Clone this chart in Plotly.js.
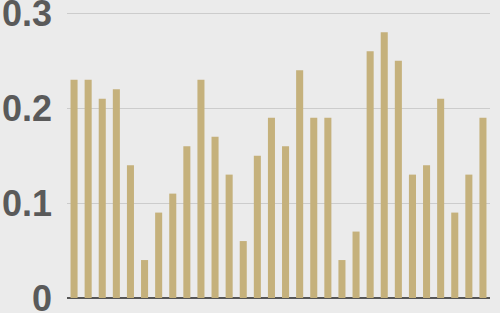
<!DOCTYPE html>
<html><head><meta charset="utf-8">
<script src="https://cdn.plot.ly/plotly-3.0.1.min.js"></script>
<style>html,body{margin:0;padding:0;background:#ebebeb;}#c{width:500px;height:313px;}</style>
</head><body><div id="c"></div>
<script>
var categories = [];
for (var i = 1; i <= 30; i++) categories.push(i);
var values = [0.23,0.23,0.21,0.22,0.14,0.04,0.09,0.11,0.16,0.23,0.17,0.13,0.06,0.15,0.19,0.16,0.24,0.19,0.19,0.04,0.07,0.26,0.28,0.25,0.13,0.14,0.21,0.09,0.13,0.19];
var tickVals = [0, 0.1, 0.2, 0.3];
var tickText = ["0", "0.1", "0.2", "0.3"];

Plotly.newPlot('c', [{
  type: 'bar', x: categories, y: values,
  marker: {color: '#c5b17c'}, hoverinfo: 'none'
}], {
  width: 500, height: 313,
  margin: {l: 67, r: 10, t: 0, b: 15},
  paper_bgcolor: '#ebebeb', plot_bgcolor: '#ebebeb',
  bargap: 0.5, showlegend: false,
  xaxis: {showticklabels: false, showgrid: false, zeroline: false, ticks: '', range: [0.5, 30.5]},
  yaxis: {range: [0, 0.314], tickvals: tickVals, ticktext: tickText,
    showgrid: true, gridcolor: '#cccccc', gridwidth: 1,
    zeroline: true, zerolinecolor: '#555555', zerolinewidth: 1.5,
    ticks: '', ticklabelstandoff: 14, ticklabeloverflow: 'allow',
    tickfont: {family: 'Arial', size: 36, color: '#5a5a5a', weight: 700}}
}, {displayModeBar: false, staticPlot: true});
</script></body></html>
